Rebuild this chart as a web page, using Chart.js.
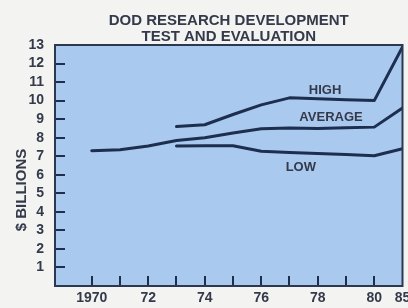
<!DOCTYPE html>
<html><head><meta charset="utf-8">
<script src="https://cdn.jsdelivr.net/npm/chart.js@4.4.1/dist/chart.umd.min.js"></script>
<style>html,body{margin:0;padding:0;background:#f3f3f1;}#wrap{width:408px;height:308px;}</style>
</head><body><div id="wrap"><canvas id="c" width="408" height="308"></canvas></div>
<script>
const titleLines = ['DOD RESEARCH DEVELOPMENT', 'TEST AND EVALUATION'];
const yAxisTitle = '$ BILLIONS';
const xTickYears = [1970, 1971, 1972, 1973, 1974, 1975, 1976, 1977, 1978, 1979, 1980, 1981];
const xTickLabels = ['1970', '', '72', '', '74', '', '76', '', '78', '', '80', '85'];
const yTickValues = [0, 1, 2, 3, 4, 5, 6, 7, 8, 9, 10, 11, 12, 13];
const yTickLabels = ['', '1', '2', '3', '4', '5', '6', '7', '8', '9', '10', '11', '12', '13'];

const averageYears = [1970, 1971, 1972, 1973, 1974, 1975, 1976, 1977, 1978, 1979, 1980, 1981];
const averageValues = [7.3, 7.35, 7.55, 7.85, 8.0, 8.25, 8.48, 8.52, 8.5, 8.53, 8.57, 9.6];
const highYears = [1973, 1974, 1975, 1976, 1977, 1978, 1979, 1980, 1981];
const highValues = [8.6, 8.7, 9.25, 9.77, 10.15, 10.1, 10.05, 10.0, 12.9];
const lowYears = [1973, 1974, 1975, 1976, 1977, 1978, 1979, 1980, 1981];
const lowValues = [7.55, 7.57, 7.57, 7.27, 7.2, 7.15, 7.1, 7.03, 7.4];
const seriesNames = ['HIGH', 'AVERAGE', 'LOW'];

const FONT = '"Liberation Sans", Arial, sans-serif';
const INK = '#343a4a';
const LINE = '#1d2e4e';
const PLOT_BG = '#a9c9ef';
const PAGE_BG = '#f3f3f1';

function pts(xs, ys) { return xs.map((x, i) => ({ x: x, y: ys[i] })); }

const ds = (name, xs, ys) => ({
  label: name, data: pts(xs, ys), borderColor: LINE, borderWidth: 3,
  pointRadius: 0, fill: false, tension: 0, borderCapStyle: 'round', borderJoinStyle: 'round'
});

const decor = {
  id: 'decor',
  beforeDraw(chart) {
    const { ctx, chartArea: a } = chart;
    ctx.save();
    ctx.fillStyle = PAGE_BG;
    ctx.fillRect(0, 0, chart.width, chart.height);
    ctx.fillStyle = PLOT_BG;
    ctx.fillRect(a.left, a.top, a.right - a.left, a.bottom - a.top);
    ctx.restore();
  },
  beforeDatasetsDraw(chart) {
    const { ctx, chartArea: a, scales } = chart;
    ctx.save();
    ctx.strokeStyle = LINE;
    ctx.lineWidth = 2;
    ctx.beginPath();
    scales.x.ticks.forEach(t => {
      if (t.value >= 1981) return;
      const px = Math.round(scales.x.getPixelForValue(t.value));
      ctx.moveTo(px, a.bottom); ctx.lineTo(px, a.bottom - 10);
    });
    scales.y.ticks.forEach(t => {
      if (t.value <= 0 || t.value >= 13) return;
      const py = Math.round(scales.y.getPixelForValue(t.value));
      ctx.moveTo(a.left, py); ctx.lineTo(a.left + 10, py);
    });
    ctx.stroke();
    ctx.restore();
  },
  afterDraw(chart) {
    const { ctx, chartArea: a, scales } = chart;
    ctx.save();
    ctx.strokeStyle = '#2c3850';
    ctx.lineWidth = 2;
    ctx.strokeRect(a.left, a.top, a.right - a.left, a.bottom - a.top);
    ctx.fillStyle = INK;
    ctx.font = 'bold 13px ' + FONT;
    ctx.textAlign = 'center';
    ctx.textBaseline = 'middle';
    const spots = [[1978.26, 10.53], [1978.47, 9.12], [1977.4, 6.42]];
    seriesNames.forEach((n, i) => {
      ctx.fillText(n, scales.x.getPixelForValue(spots[i][0]), scales.y.getPixelForValue(spots[i][1]));
    });
    ctx.font = 'bold 15px ' + FONT;
    ctx.translate(22, 190);
    ctx.rotate(-Math.PI / 2);
    ctx.fillText(yAxisTitle, 0, 0);
    ctx.restore();
  }
};

new Chart(document.getElementById('c'), {
  type: 'line',
  data: {
    datasets: [
      ds(seriesNames[0], highYears, highValues),
      ds(seriesNames[1], averageYears, averageValues),
      ds(seriesNames[2], lowYears, lowValues)
    ]
  },
  options: {
    responsive: false,
    animation: false,
    events: [],
    layout: { padding: { left: 0, right: 5.5, top: 0, bottom: 0 } },
    plugins: {
      legend: { display: false },
      tooltip: { enabled: false },
      title: {
        display: true, fullSize: false, text: titleLines, color: INK,
        font: { family: FONT, size: 15, weight: 'bold', lineHeight: 16 / 15 },
        padding: { top: 13, bottom: 0 }
      }
    },
    scales: {
      x: {
        type: 'linear', min: 1968.7, max: 1981,
        afterBuildTicks: s => { s.ticks = xTickYears.map(v => ({ value: v })); },
        ticks: {
          autoSkip: false, maxRotation: 0, padding: 4, color: INK,
          font: { family: FONT, size: 14, weight: 'bold' },
          callback: (v, i) => xTickLabels[i]
        },
        grid: { display: false, drawTicks: false },
        border: { display: false },
        afterFit: s => { s.height = 22; s.paddingLeft = 0; s.paddingRight = 0; }
      },
      y: {
        min: 0, max: 13,
        afterBuildTicks: s => { s.ticks = yTickValues.map(v => ({ value: v })); },
        ticks: {
          autoSkip: false, padding: 11, color: INK,
          font: { family: FONT, size: 14, weight: 'bold' },
          callback: (v, i) => yTickLabels[i]
        },
        grid: { display: false, drawTicks: false },
        border: { display: false },
        afterFit: s => { s.width = 55; s.paddingTop = 0; s.paddingBottom = 0; }
      }
    }
  },
  plugins: [decor]
});
</script>
</body></html>
